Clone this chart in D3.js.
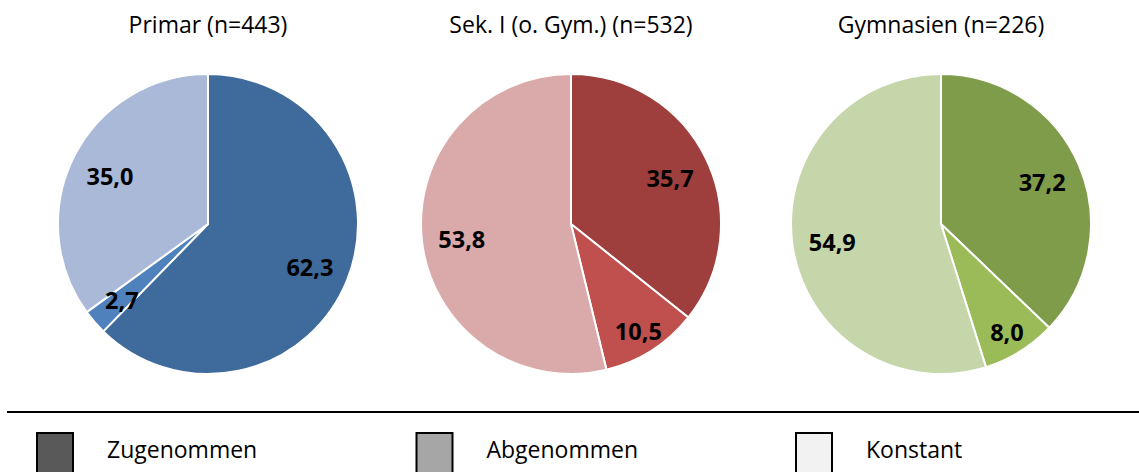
<!DOCTYPE html>
<html>
<head>
<meta charset="utf-8">
<script src="https://cdn.jsdelivr.net/npm/d3@7"></script>
<style>
  html, body { margin: 0; padding: 0; background: #fff; }
  svg { display: block; font-family: "Open Sans", "Liberation Sans", sans-serif; }
</style>
</head>
<body>
<svg id="chart" width="1139" height="472"></svg>
<script>
// Categories of change and school levels
const categories = ["Zugenommen", "Abgenommen", "Konstant"];
const groups = ["Primar (n=443)", "Sek. I (o. Gym.) (n=532)", "Gymnasien (n=226)"];

// Percent shares per school level, in category order
const primarValues = [62.3, 2.7, 35.0];
const sekValues = [35.7, 10.5, 53.8];
const gymValues = [37.2, 8.0, 54.9];

// Slice colours per school level (dark, medium, light)
const primarColors = ["#3F6A9C", "#4F81BD", "#AAB9D7"];
const sekColors = ["#9E3F3E", "#C0504D", "#DAAAAA"];
const gymColors = ["#7F9C4A", "#9BBB59", "#C5D6AB"];

// Neutral legend swatches
const legendColors = ["#595959", "#A6A6A6", "#F2F2F2"];

const seriesValues = [primarValues, sekValues, gymValues];
const seriesColors = [primarColors, sekColors, gymColors];

const svg = d3.select("#chart");
const W = 1139;

const radius = 150;
const centerY = 224;
const centerX = d3.scaleOrdinal().domain(groups).range([208, 571, 941]);

const pie = d3.pie().sort(null).value(d => d.value);
const arc = d3.arc().innerRadius(0).outerRadius(radius);
// Value labels sit further out in thin slices
const labelRadius = v => v < 5 ? 114 : v < 15 ? 125 : 110;
const fmt = v => d3.format(".1f")(v).replace(".", ",");

groups.forEach((g, i) => {
  const data = categories.map((c, k) => ({ cat: c, value: seriesValues[i][k], color: seriesColors[i][k] }));
  const cx = centerX(g);
  const gEl = svg.append("g").attr("transform", `translate(${cx},${centerY})`);

  const arcs = pie(data);
  gEl.selectAll("path.slice")
    .data(arcs)
    .join("path")
    .attr("class", "slice")
    .attr("d", arc)
    .attr("fill", d => d.data.color)
    .attr("stroke", "#fff")
    .attr("stroke-width", 2)
    .attr("stroke-linejoin", "round");

  gEl.selectAll("text.val")
    .data(arcs)
    .join("text")
    .attr("class", "val")
    .attr("transform", d => {
      const r = labelRadius(d.data.value);
      const [x, y] = d3.arc().innerRadius(r).outerRadius(r).centroid(d);
      return `translate(${x},${y})`;
    })
    .attr("text-anchor", "middle")
    .attr("dy", "0.45em")
    .attr("font-size", 23.5)
    .attr("font-weight", "bold")
    .attr("fill", "#000")
    .text(d => fmt(d.data.value));

  svg.append("text")
    .attr("x", cx)
    .attr("y", 33)
    .attr("text-anchor", "middle")
    .attr("font-size", 23)
    .attr("fill", "#000")
    .text(g);
});

// Legend separator
svg.append("line")
  .attr("x1", 7).attr("x2", W)
  .attr("y1", 412).attr("y2", 412)
  .attr("stroke", "#000")
  .attr("stroke-width", 2);

// Legend entries
const legendX = d3.scalePoint().domain(categories).range([36, 795]);
const legend = svg.selectAll("g.legend")
  .data(categories)
  .join("g")
  .attr("class", "legend")
  .attr("transform", d => `translate(${legendX(d)},432)`);

legend.append("rect")
  .attr("x", 1).attr("y", 1)
  .attr("width", 36).attr("height", 50)
  .attr("fill", (d, i) => legendColors[i])
  .attr("stroke", "#000")
  .attr("stroke-width", 2);

legend.append("text")
  .attr("x", 71)
  .attr("y", 26)
  .attr("font-size", 23)
  .attr("fill", "#000")
  .text(d => d);
</script>
</body>
</html>
